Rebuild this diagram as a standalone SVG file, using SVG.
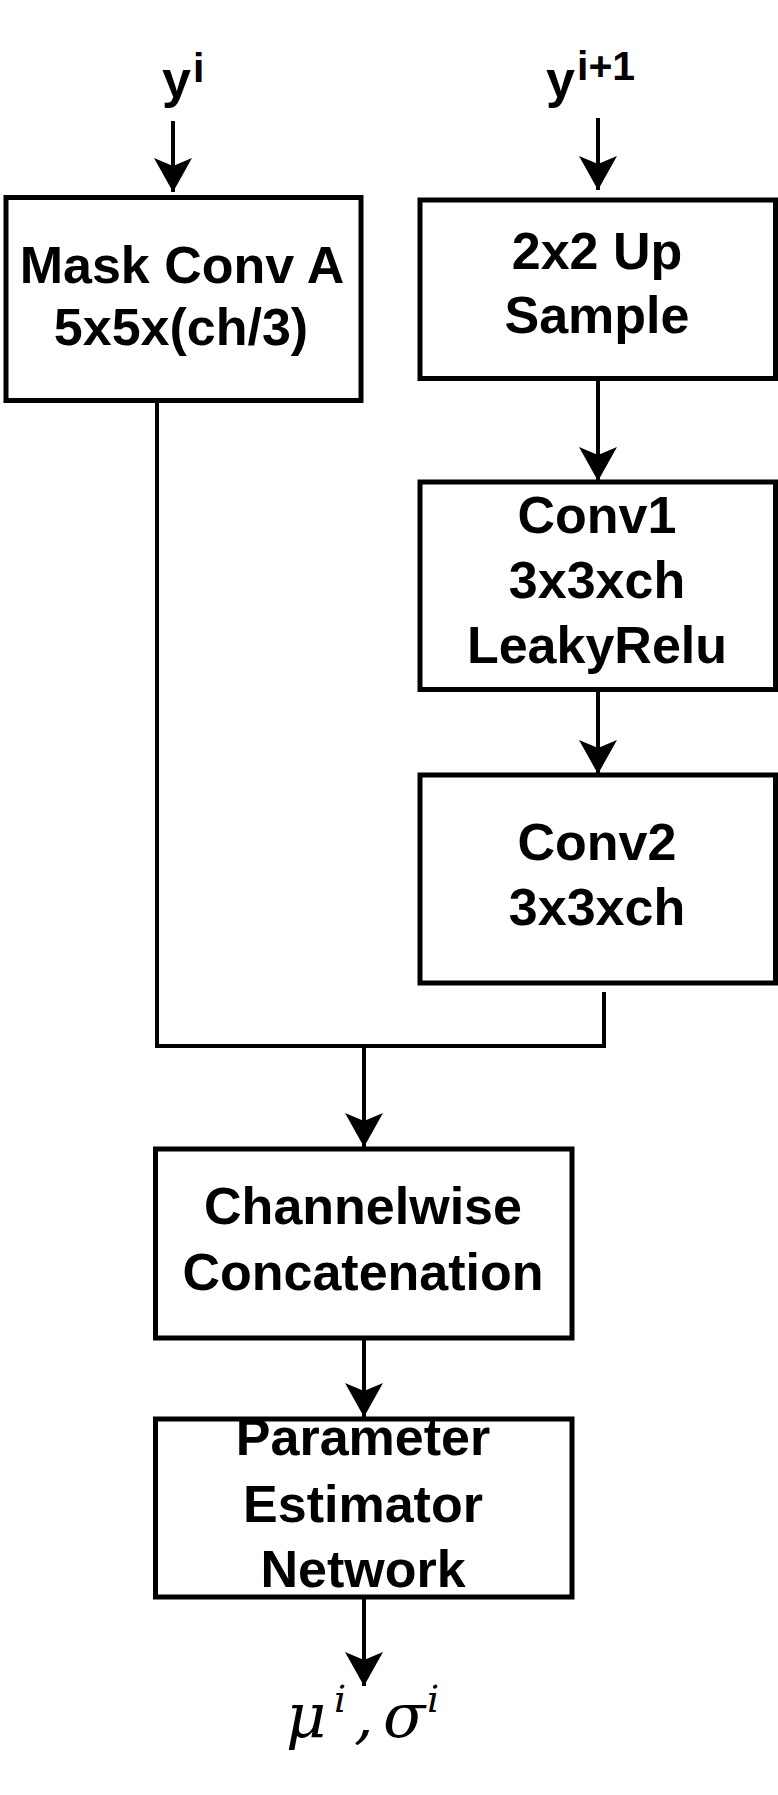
<svg xmlns="http://www.w3.org/2000/svg" width="778" height="1795" viewBox="0 0 778 1795">
  <style>
    .box { fill: #ffffff; stroke: #000000; stroke-width: 5; }
    .lbl { font-family: "Liberation Sans", Arial, sans-serif; font-weight: bold; font-size: 52px; fill: #000000; text-anchor: middle; }
    .in { font-family: "Liberation Sans", Arial, sans-serif; font-weight: bold; fill: #000000; }
    .math { font-family: "DejaVu Serif", "Liberation Serif", serif; font-style: italic; fill: #000000; }
    .edge { fill: none; stroke: #000000; stroke-width: 4; }
  </style>
  <defs>
    <marker id="arr" markerUnits="userSpaceOnUse" markerWidth="34" markerHeight="38" viewBox="0 0 34 38" refX="34" refY="19" orient="auto">
      <path d="M0,0 L34,19 L0,38 L8,19 Z" fill="#000000"/>
    </marker>
  </defs>
  <rect width="778" height="1795" fill="#ffffff"/>

  <g id="connectors">
    <line class="edge" x1="173" y1="121" x2="173" y2="192" marker-end="url(#arr)"/>
    <line class="edge" x1="598" y1="118" x2="598" y2="190" marker-end="url(#arr)"/>
    <line class="edge" x1="598" y1="378" x2="598" y2="481" marker-end="url(#arr)"/>
    <line class="edge" x1="598" y1="690" x2="598" y2="774" marker-end="url(#arr)"/>
    <polyline class="edge" points="157,401 157,1046 604,1046 604,992"/>
    <line class="edge" x1="364" y1="1046" x2="364" y2="1147" marker-end="url(#arr)"/>
    <line class="edge" x1="364" y1="1338" x2="364" y2="1417" marker-end="url(#arr)"/>
    <line class="edge" x1="364" y1="1597" x2="364" y2="1686" marker-end="url(#arr)"/>
  </g>

  <g id="input-yi">
    <text class="in" x="162" y="97" font-size="52">y</text>
    <text class="in" x="193" y="82" font-size="41">i</text>
  </g>
  <g id="input-yi1">
    <text class="in" x="546" y="97" font-size="52">y</text>
    <text class="in" x="577" y="80" font-size="41">i+1</text>
  </g>

  <g id="mask-conv">
    <rect class="box" x="6" y="197.5" width="355" height="203"/>
    <text class="lbl" x="182" y="283">Mask Conv A</text>
    <text class="lbl" x="181" y="345">5x5x(ch/3)</text>
  </g>

  <g id="upsample">
    <rect class="box" x="420" y="200" width="355.5" height="178.5"/>
    <text class="lbl" x="597" y="269">2x2 Up</text>
    <text class="lbl" x="597" y="333">Sample</text>
  </g>

  <g id="conv1">
    <rect class="box" x="420" y="482" width="355.5" height="207.5"/>
    <text class="lbl" x="597" y="533">Conv1</text>
    <text class="lbl" x="597" y="598">3x3xch</text>
    <text class="lbl" x="597" y="663">LeakyRelu</text>
  </g>

  <g id="conv2">
    <rect class="box" x="420" y="775" width="355.5" height="208"/>
    <text class="lbl" x="597" y="860">Conv2</text>
    <text class="lbl" x="597" y="925">3x3xch</text>
  </g>

  <g id="concat">
    <rect class="box" x="155.5" y="1149" width="416.5" height="189"/>
    <text class="lbl" x="363" y="1224">Channelwise</text>
    <text class="lbl" x="363" y="1290">Concatenation</text>
  </g>

  <g id="param-est">
    <rect class="box" x="155.5" y="1419" width="416.5" height="178"/>
    <text class="lbl" x="363" y="1455">Parameter</text>
    <text class="lbl" x="363" y="1522">Estimator</text>
    <text class="lbl" x="363" y="1587">Network</text>
  </g>

  <g id="output">
    <text class="math" x="286" y="1737" font-size="62">μ</text>
    <text class="math" x="334" y="1712" font-size="38">i</text>
    <text class="math" x="354" y="1737" font-size="62">,</text>
    <text class="math" x="383" y="1737" font-size="62">σ</text>
    <text class="math" x="427" y="1712" font-size="38">i</text>
  </g>
</svg>
